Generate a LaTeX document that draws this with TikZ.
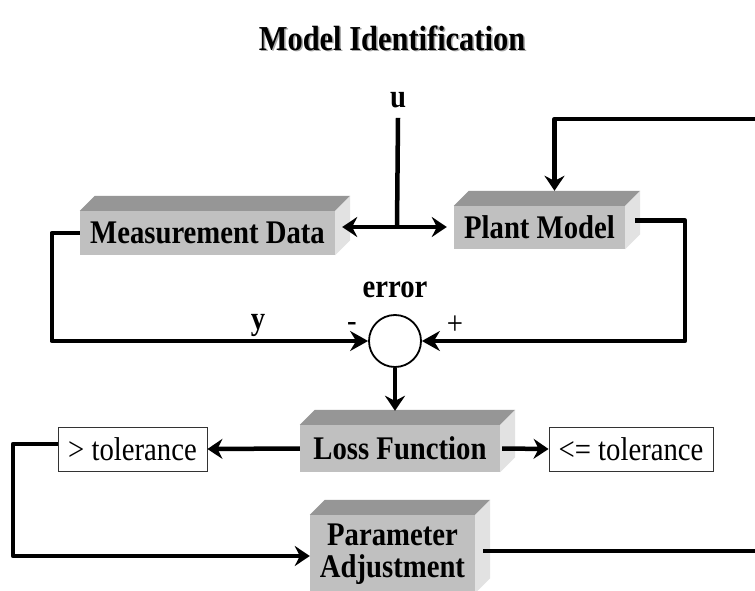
\documentclass[tikz,border=0pt]{standalone}
\usepackage{fontspec}
\setmainfont{Liberation Serif}[FakeStretch=0.87]
\usetikzlibrary{arrows.meta,calc}

\definecolor{boxfront}{HTML}{C0C0C0}
\definecolor{boxtop}{HTML}{969696}
\definecolor{boxside}{HTML}{E2E2E2}
\definecolor{shadowgray}{HTML}{A8A8A8}

\newcommand{\lblfont}{\fontsize{33}{32}\selectfont}
\newcommand{\titlefont}{\fontsize{35}{36}\selectfont\bfseries}

\tikzset{
  block/.style={fill=boxfront, inner sep=0pt, font=\lblfont\bfseries, align=center},
  tolbox/.style={draw=black!80, line width=0.9pt, inner sep=0pt, font=\lblfont},
  conn/.style={line width=4.5pt, line join=round},
  arr/.style={conn, -{Stealth[length=15pt,width=20pt,inset=5pt]}},
  bigarr/.style={conn, -{Stealth[length=18pt,width=20pt,inset=6pt]}},
  lbl/.style={font=\lblfont\bfseries, inner sep=0pt},
  sign/.style={font=\lblfont, inner sep=0pt}
}

\begin{document}
\begin{tikzpicture}[x=1pt, y=1pt]
\clip (0,0) rectangle (755,590);
\fill[white] (0,0) rectangle (755,590);

% title with a soft drop shadow
\node[font=\titlefont, text=shadowgray] at (393.5,550.5) {Model Identification};
\node (title) [font=\titlefont] at (392,552) {Model Identification};

% front faces of the blocks
\node (md) [block, minimum width=255pt, minimum height=44pt] at (207.5,357) {Measurement Data};
\node (pm) [block, minimum width=171pt, minimum height=43pt] at (539.5,362.5) {Plant Model};
\node (lf) [block, minimum width=200pt, minimum height=47pt] at (400,141.5) {Loss Function};
\node (pa) [block, minimum width=165pt, minimum height=78pt] at (392.5,36) {Parameter\\Adjustment};

% top and side faces give the blocks their depth
\foreach \n in {md,pm,lf,pa} {
  \fill[boxtop] (\n.north west) -- ++(15,15) -- ([shift={(15,15)}]\n.north east) -- (\n.north east) -- cycle;
  \fill[boxside] (\n.north east) -- ([shift={(15,15)}]\n.north east) -- ([shift={(15,15)}]\n.south east) -- (\n.south east) -- cycle;
}

% tolerance outcomes
\node (gt) [tolbox, minimum width=149pt, minimum height=44pt] at (132.5,141) {> tolerance};
\node (le) [tolbox, minimum width=164pt, minimum height=44pt] at (631,141) {<= tolerance};

% summing junction and its labels
\node (sum) [draw, circle, line width=1.8pt, minimum size=52pt, inner sep=0pt] at (395,249) {};
\node (err) [lbl] at (395,300) {error};
\node (minus) [sign] at (352,263) {-};
\node (plus) [sign] at (455,265) {+};
\node (ylbl) [lbl] at (258,265) {y};
\node (u) [lbl] at (398,490) {u};

% input u split to both blocks
\coordinate (uj) at (397,363);
\draw[conn] ([yshift=-10pt]u.south) -- (uj);
\draw[arr] (uj) -- ([xshift=7pt]uj -| md.east);
\draw[arr] (uj) -- ([xshift=-7pt]uj -| pm.west);

% measured output y into the junction
\draw[bigarr] (md.west) -- ++(-28,0) |- (sum.west);

% model output into the junction
\coordinate (rc) at (685,249);
\draw[bigarr] ([shift={(10,7)}]pm.east) -| (rc) -- (sum.east);

% error into the loss function
\coordinate (lftop) at ([yshift=14pt]lf.north);
\draw[arr] (sum.south) -- (sum.south |- lftop);

% loss function outcomes
\draw[arr] (lf.west) -- (gt.east);
\draw[arr] ([xshift=2pt]lf.east) -- (le.west);

% iterate: adjust parameters
\coordinate (lc) at (13,146);
\draw[arr] ([yshift=5pt]gt.west) -- (lc) |- ([yshift=-2pt]pa.west);

% updated parameters back to the plant model
\coordinate (fbout) at (760,39);
\coordinate (fbin) at (760,471);
\draw[conn] ([xshift=8pt,yshift=3pt]pa.east) -- (fbout);
\draw[arr] (fbin) -| ([shift={(15,15)}]pm.north);
\end{tikzpicture}
\end{document}
